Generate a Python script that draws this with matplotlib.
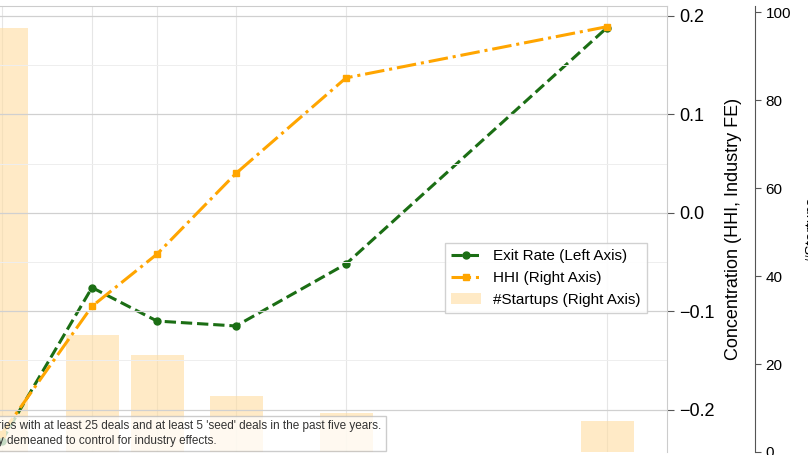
"""Exit rate, HHI and startup counts by bin (cropped view)."""

import matplotlib

matplotlib.use("Agg")
import matplotlib.pyplot as plt
from matplotlib.ticker import MultipleLocator

plt.rcParams["font.family"] = ["Liberation Sans", "DejaVu Sans"]

# bin positions along the (cropped) x axis
bin_positions = [1.5, 92, 157, 236, 346, 607]
exit_rate = [-0.232, -0.076, -0.110, -0.115, -0.052, 0.188]
hhi = [-0.225, -0.095, -0.042, 0.040, 0.137, 0.189]
startups = [96.4, 26.6, 22.0, 12.7, 8.9, 7.0]

GREEN = "#1b6e14"
ORANGE = "#ffa500"
BAR = "#ffdca0"

figure = plt.figure(figsize=(8.08, 4.55), dpi=100)
ax_bar = figure.add_axes([0.0, 0.0066, 0.8255, 0.9802])

bars = ax_bar.bar(bin_positions, startups, width=53, color=BAR, alpha=0.6,
                  label="#Startups (Right Axis)", zorder=1)
ax_bar.set_xlim(0, 667)
ax_bar.set_ylim(0, 101.4)
ax_bar.set_xticks(bin_positions)
ax_bar.tick_params(axis="x", bottom=False, labelbottom=False)
ax_bar.grid(axis="x", color="#e6e6e6", linewidth=0.8)
ax_bar.set_axisbelow(True)

hhi_lim = (-0.243, 0.210)

ax_exit = ax_bar.twinx()
ax_exit.set_ylim(*hhi_lim)
ax_exit.axis("off")
(exit_line,) = ax_exit.plot(bin_positions, exit_rate, color=GREEN, linestyle="--",
                            linewidth=2.2, marker="o", markersize=5,
                            label="Exit Rate (Left Axis)")

ax_hhi = ax_bar.twinx()
ax_hhi.set_ylim(*hhi_lim)
ax_hhi.set_xlim(0, 667)
(hhi_line,) = ax_hhi.plot(bin_positions, hhi, color=ORANGE, linestyle="-.",
                          linewidth=2.2, marker="s", markersize=5,
                          label="HHI (Right Axis)")
ax_hhi.yaxis.set_minor_locator(MultipleLocator(0.05))
ax_hhi.set_yticks([-0.2, -0.1, 0.0, 0.1, 0.2])
ax_hhi.set_yticklabels(["\u22120.2", "\u22120.1", "0.0", "0.1", "0.2"])
ax_hhi.tick_params(axis="y", which="major", labelsize=13, length=5, color="#555555")
ax_hhi.tick_params(axis="y", which="minor", length=0)
ax_hhi.set_ylabel("Concentration (HHI, Industry FE)", fontsize=13, labelpad=8)
ax_hhi.grid(axis="y", which="major", color="#d0d0d0", linewidth=0.9)
ax_hhi.grid(axis="y", which="minor", color="#eeeeee", linewidth=0.7)
for side in ("top", "right"):
    ax_hhi.spines[side].set_color("#cccccc")
for side in ("left", "bottom"):
    ax_hhi.spines[side].set_visible(False)

# startup count axis sits outside, on the far right (set after twinx)
ax_bar.yaxis.tick_right()
ax_bar.yaxis.set_label_position("right")
ax_bar.spines["right"].set_position(("axes", 1.132))
ax_bar.spines["right"].set_color("#555555")
ax_bar.set_yticks([0, 20, 40, 60, 80, 100])
ax_bar.tick_params(axis="y", labelsize=11, length=4, color="#555555",
                   left=False, labelleft=False, right=True, labelright=True)
ax_bar.set_ylabel("#Startups", fontsize=11, labelpad=10)
for side in ("top", "left", "bottom"):
    ax_bar.spines[side].set_visible(False)

ax_hhi.legend(handles=[exit_line, hhi_line, bars], loc="lower left",
              bbox_to_anchor=(0.655, 0.295), fontsize=11, frameon=True,
              framealpha=0.9, edgecolor="#cccccc", fancybox=False)

ax_hhi.text(-0.232, 0.012,
            "Note: Sample includes industries with at least 25 deals and at least 5 'seed' deals in the past five years.\n"
            "Note: All variables are industry demeaned to control for industry effects.",
            transform=ax_hhi.transAxes, fontsize=8.5, color="#333333", ha="left",
            va="bottom", linespacing=1.3,
            bbox=dict(facecolor="white", alpha=0.75, edgecolor="#bbbbbb", pad=3))

figure.savefig("out.png", dpi=100)
